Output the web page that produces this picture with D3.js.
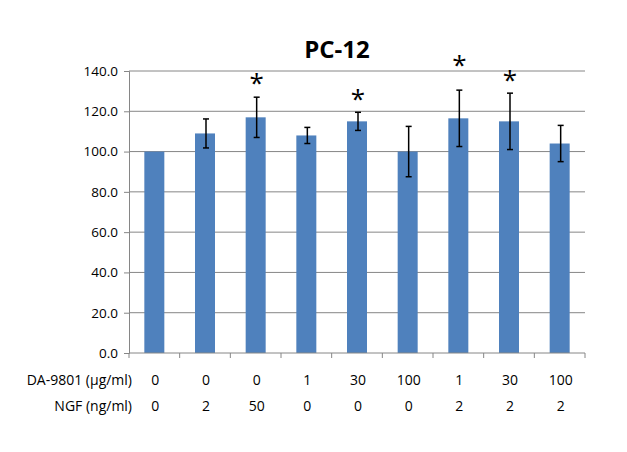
<!DOCTYPE html>
<html><head><meta charset="utf-8">
<script src="https://cdn.jsdelivr.net/npm/d3@7"></script>
<style>body{margin:0;background:#fff}svg{display:block}text{font-family:"Open Sans","Noto Sans",sans-serif}</style>
</head><body><svg id="c" width="627" height="452"></svg>
<script>
const daLabels = ["0","0","0","1","30","100","1","30","100"];
const ngfLabels = ["0","2","50","0","0","0","2","2","2"];
const values = [100, 109, 117, 108, 115, 100, 116.5, 115, 104];
const errors = [0, 7.2, 10, 4, 4.5, 12.5, 14, 14, 9];
const starAt = [null, null, 137, null, 129, null, 146, 138.5, null];
const yTicks = [0,20,40,60,80,100,120,140];
const title = "PC-12";
const rowLabels = ["DA-9801 (\u03bcg/ml)", "NGF (ng/ml)"];

const svg = d3.select("#c");
const L = 129, R = 585, T = 71, B = 353;
const idx = d3.range(values.length);
const xb = d3.scaleBand().domain(idx).range([L, R]);
const y = d3.scaleLinear().domain([0, 140]).range([B, T]);

// gridlines
svg.append("g").selectAll("line").data(yTicks.filter(d=>d>0)).join("line")
  .attr("x1", L).attr("x2", R).attr("y1", d=>y(d)).attr("y2", d=>y(d))
  .attr("stroke", "#868686").attr("stroke-width", 1);

// y axis
const ya = svg.append("g").attr("transform", `translate(${L},0)`)
  .call(d3.axisLeft(y).tickValues(yTicks).tickFormat(d3.format(".1f")).tickSize(5).tickPadding(6));
ya.selectAll("path,line").attr("stroke", "#868686");
ya.selectAll("text").attr("font-size", 13.5).attr("fill", "#000").attr("font-weight", 500)
  .attr("font-family", "Open Sans, sans-serif");

// bars
svg.append("g").selectAll("rect").data(idx).join("rect")
  .attr("x", i => xb(i) + xb.bandwidth()/2 - 10).attr("width", 20)
  .attr("y", i => y(values[i])).attr("height", i => B - y(values[i]))
  .attr("fill", "#4F81BD");

// x axis
const xa = svg.append("g").attr("transform", `translate(0,${B})`);
xa.append("line").attr("x1", L).attr("x2", R).attr("stroke", "#868686");
xa.selectAll(".t").data(d3.range(values.length+1)).join("line")
  .attr("x1", i => L + i*xb.step()).attr("x2", i => L + i*xb.step())
  .attr("y1", 0).attr("y2", 5).attr("stroke", "#868686");

// error bars
const eg = svg.append("g").attr("stroke", "#000").attr("stroke-width", 1.5);
idx.filter(i => errors[i] > 0).forEach(i => {
  const cx = xb(i) + xb.bandwidth()/2 + 1;
  const t = y(values[i] + errors[i]), b = y(values[i] - errors[i]);
  eg.append("line").attr("x1", cx).attr("x2", cx).attr("y1", t).attr("y2", b);
  eg.append("line").attr("x1", cx-3).attr("x2", cx+3).attr("y1", t).attr("y2", t);
  eg.append("line").attr("x1", cx-3).attr("x2", cx+3).attr("y1", b).attr("y2", b);
});

// stars
svg.append("g").selectAll("text").data(idx.filter(i => starAt[i] != null)).join("text")
  .attr("x", i => xb(i) + xb.bandwidth()/2 + 1).attr("y", i => y(starAt[i]) + 15)
  .attr("text-anchor", "middle").attr("font-size", 26).attr("fill", "#000").text("*");

// title
svg.append("text").attr("x", 337).attr("y", 58).attr("text-anchor", "middle")
  .attr("font-size", 24).attr("font-weight", "bold").text(title);

// table rows
const rows = [daLabels, ngfLabels];
const rowY = [385, 411];
rows.forEach((row, r) => {
  svg.append("text").attr("x", 132).attr("y", rowY[r]).attr("text-anchor", "end")
    .attr("font-size", 14).attr("font-weight", 500).text(rowLabels[r]);
  svg.append("g").selectAll("text").data(row).join("text")
    .attr("x", (d,i) => xb(i) + xb.bandwidth()/2 + 1).attr("y", rowY[r])
    .attr("text-anchor", "middle").attr("font-size", 14).attr("font-weight", 500).text(d => d);
});
</script></body></html>
